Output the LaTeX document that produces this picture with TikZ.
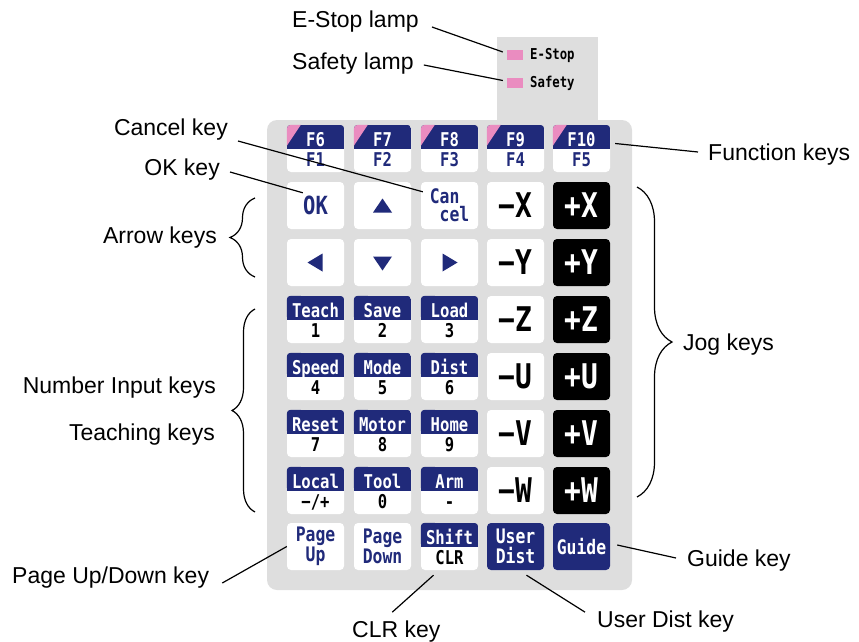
\documentclass[tikz,border=0pt]{standalone}
\usepackage{fontspec}
\setmainfont{Liberation Sans}
\newfontfamily\keyfont[FakeStretch=0.82]{DejaVu Sans Mono}
\usetikzlibrary{decorations.pathreplacing}

\definecolor{navy}{RGB}{32,42,122}
\definecolor{panel}{RGB}{222,222,222}
\definecolor{lamppink}{RGB}{234,140,192}

\newcommand{\ksz}[1]{\fontsize{#1}{#1}\selectfont}
% key with a navy band on top: [corner colour] name, centre, top text, bottom text, bottom colour
\newcommand{\bandkey}[6][navy]{%
  \node[key] (#2) at #3 {};
  \begin{scope}
    \clip[rounded corners=4pt] (#2.north west) rectangle (#2.south east);
    \fill[navy] (#2.north west) rectangle ([yshift=-24pt]#2.north east);
    \fill[#1] (#2.north west) -- ++(14,0) -- ++(-14,21) -- cycle;
  \end{scope}
  \node[bandtxt] (#2t) at ([yshift=-22pt]#2.north) {#4};
  \node[numtxt, text=#6] (#2b) at ([yshift=-42pt]#2.north) {#5};
}

\begin{document}
\begin{tikzpicture}[x=1pt, y=-1pt,
    lbl/.style={font=\fontsize{23}{27}\selectfont, inner sep=0pt},
    key/.style={rectangle, rounded corners=4pt, fill=white, minimum width=57pt, minimum height=47pt, inner sep=0pt, align=center, font=\keyfont\bfseries\ksz{20}},
    wkey/.style={key, text=navy},
    axkey/.style={key, text=black, font=\keyfont\bfseries\ksz{34}},
    jogkey/.style={key, fill=black, text=white, font=\keyfont\bfseries\ksz{34}},
    nkey/.style={key, fill=navy, text=white},
    bandtxt/.style={anchor=base, inner sep=0pt, text=white, font=\keyfont\bfseries\ksz{19}},
    numtxt/.style={anchor=base, inner sep=0pt, font=\keyfont\bfseries\ksz{19}},
    lamp/.style={fill=lamppink, minimum width=16pt, minimum height=10pt, inner sep=0pt},
    lamptxt/.style={anchor=west, inner sep=0pt, font=\keyfont\bfseries\ksz{15}},
    conn/.style={line width=1.2pt},
    brc/.style={decorate, decoration={brace, amplitude=#1}, line width=1.2pt}]
    \useasboundingbox (0,0) rectangle (859,642);

    % panel
    \fill[panel, rounded corners=10pt] (267,120) rectangle (632,590);
    \fill[panel] (497,37) rectangle (598,130);
    \node[lamp] (lampE) at (515,55) {};
    \node[lamp] (lampS) at (515,82.5) {};
    \node[lamptxt] (tE) at (530,55) {E-Stop};
    \node[lamptxt] (tS) at (530,83) {Safety};

    % function keys
    \bandkey[lamppink]{kF1}{(315.5,148.5)}{F6}{F1}{navy}
    \bandkey[lamppink]{kF2}{(382.5,148.5)}{F7}{F2}{navy}
    \bandkey[lamppink]{kF3}{(449.5,148.5)}{F8}{F3}{navy}
    \bandkey[lamppink]{kF4}{(515.5,148.5)}{F9}{F4}{navy}
    \bandkey[lamppink]{kF5}{(581.5,148.5)}{F10}{F5}{navy}

    % OK, arrows, cancel
    \node[wkey, font=\keyfont\bfseries\ksz{25}] (kOK) at (315.5,205.5) {OK};
    \node[wkey] (kUp) at (382.5,205.5) {};
    \node[wkey, align=left] (kCan) at (449.5,205.5) {Can\\[-2pt]\phantom{c}cel};
    \node[wkey] (kLeft) at (315.5,262.5) {};
    \node[wkey] (kDown) at (382.5,262.5) {};
    \node[wkey] (kRight) at (449.5,262.5) {};
    \fill[navy] ([shift={(-9.5,7)}]kUp.center) -- ++(19,0) -- ++(-9.5,-14) -- cycle;
    \fill[navy] ([shift={(-8,0)}]kLeft.center) -- ++(15,-9) -- ++(0,18) -- cycle;
    \fill[navy] ([shift={(-9.5,-6)}]kDown.center) -- ++(19,0) -- ++(-9.5,14) -- cycle;
    \fill[navy] ([shift={(8,0)}]kRight.center) -- ++(-15,-9) -- ++(0,18) -- cycle;

    % number / teaching keys
    \bandkey{kT1}{(315.5,319.5)}{Teach}{1}{black}
    \bandkey{kT2}{(382.5,319.5)}{Save}{2}{black}
    \bandkey{kT3}{(449.5,319.5)}{Load}{3}{black}
    \bandkey{kT4}{(315.5,376.5)}{Speed}{4}{black}
    \bandkey{kT5}{(382.5,376.5)}{Mode}{5}{black}
    \bandkey{kT6}{(449.5,376.5)}{Dist}{6}{black}
    \bandkey{kT7}{(315.5,433.5)}{Reset}{7}{black}
    \bandkey{kT8}{(382.5,433.5)}{Motor}{8}{black}
    \bandkey{kT9}{(449.5,433.5)}{Home}{9}{black}
    \bandkey{kT10}{(315.5,490.5)}{Local}{−/+}{black}
    \bandkey{kT11}{(382.5,490.5)}{Tool}{0}{black}
    \bandkey{kT12}{(449.5,490.5)}{Arm}{-}{black}

    % jog keys
    \node[axkey] (kmX) at (515.5,205.5) {−X};
    \node[axkey] (kmY) at (515.5,262.5) {−Y};
    \node[axkey] (kmZ) at (515.5,319.5) {−Z};
    \node[axkey] (kmU) at (515.5,376.5) {−U};
    \node[axkey] (kmV) at (515.5,433.5) {−V};
    \node[axkey] (kmW) at (515.5,490.5) {−W};
    \node[jogkey] (kpX) at (581.5,205.5) {+X};
    \node[jogkey] (kpY) at (581.5,262.5) {+Y};
    \node[jogkey] (kpZ) at (581.5,319.5) {+Z};
    \node[jogkey] (kpU) at (581.5,376.5) {+U};
    \node[jogkey] (kpV) at (581.5,433.5) {+V};
    \node[jogkey] (kpW) at (581.5,490.5) {+W};

    % bottom row
    \node[wkey] (kPgUp) at (315.5,546.5) {Page\\Up};
    \node[wkey] (kPgDn) at (382.5,546.5) {Page\\Down};
    \bandkey{kShift}{(449.5,546.5)}{Shift}{CLR}{black}
    \node[nkey] (kUser) at (515.5,546.5) {User\\Dist};
    \node[nkey] (kGuide) at (581.5,546.5) {Guide};

    % labels
    \node[lbl, anchor=base west] (lEstop) at (292,28) {E-Stop lamp};
    \node[lbl, anchor=base west] (lSafety) at (292,70) {Safety lamp};
    \node[lbl, anchor=base east] (lCancel) at (228,135) {Cancel key};
    \node[lbl, anchor=base east] (lOK) at (220,175) {OK key};
    \node[lbl, anchor=base east] (lArrow) at (217,243) {Arrow keys};
    \node[lbl, anchor=base west] (lFunc) at (708,160) {Function keys};
    \node[lbl, anchor=base west] (lJog) at (683,350) {Jog keys};
    \node[lbl, anchor=base east] (lNum) at (216,393) {Number Input keys};
    \node[lbl, anchor=base east] (lTeach) at (215,440) {Teaching keys};
    \node[lbl, anchor=base west] (lPage) at (12,583) {Page Up/Down key};
    \node[lbl, anchor=base west] (lCLR) at (352,637) {CLR key};
    \node[lbl, anchor=base west] (lUser) at (597,627) {User Dist key};
    \node[lbl, anchor=base west] (lGuide) at (687,566) {Guide key};

    % leader lines
    \draw[conn] ([xshift=13pt,yshift=1pt]lEstop.base east) -- ([xshift=-4pt,yshift=3pt]lampE.west);
    \draw[conn] ([xshift=10pt,yshift=5pt]lSafety.base east) -- ([xshift=-4pt,yshift=2pt]lampS.west);
    \draw[conn] ([xshift=10pt,yshift=-6pt]lCancel.base east) -- ([xshift=2pt,yshift=-10pt]kCan.north west);
    \draw[conn] ([xshift=10pt,yshift=3pt]lOK.base east) -- ([xshift=16pt,yshift=-11pt]kOK.north west);
    \draw[conn] ([xshift=5pt,yshift=5pt]kF5.east) -- ([xshift=-10pt,yshift=8pt]lFunc.base west);
    \draw[conn] ([xshift=13pt]lPage.base east) -- (kPgUp.west);
    \draw[conn] ([xshift=-4pt,yshift=8pt]lCLR.north) -- ([xshift=-16pt,yshift=-5pt]kShift.south);
    \draw[conn] ([xshift=11pt,yshift=-5pt]kUser.south) -- ([xshift=-12pt,yshift=-2pt]lUser.north west);
    \draw[conn] ([xshift=7pt,yshift=1.5pt]kGuide.east) -- ([xshift=-11pt,yshift=8pt]lGuide.base west);

    % braces
    \coordinate (arrTop) at (255,198);
    \coordinate (arrBot) at (255,277);
    \coordinate (numTop) at (255,309);
    \coordinate (numBot) at (255,512);
    \coordinate (jogTop) at (637,187);
    \coordinate (jogBot) at (637,497);
    \draw[brc=25pt] (arrBot) -- (arrTop);
    \draw[brc=23pt] (numBot) -- (numTop);
    \draw[brc=35pt] (jogTop) -- (jogBot);
\end{tikzpicture}
\end{document}
